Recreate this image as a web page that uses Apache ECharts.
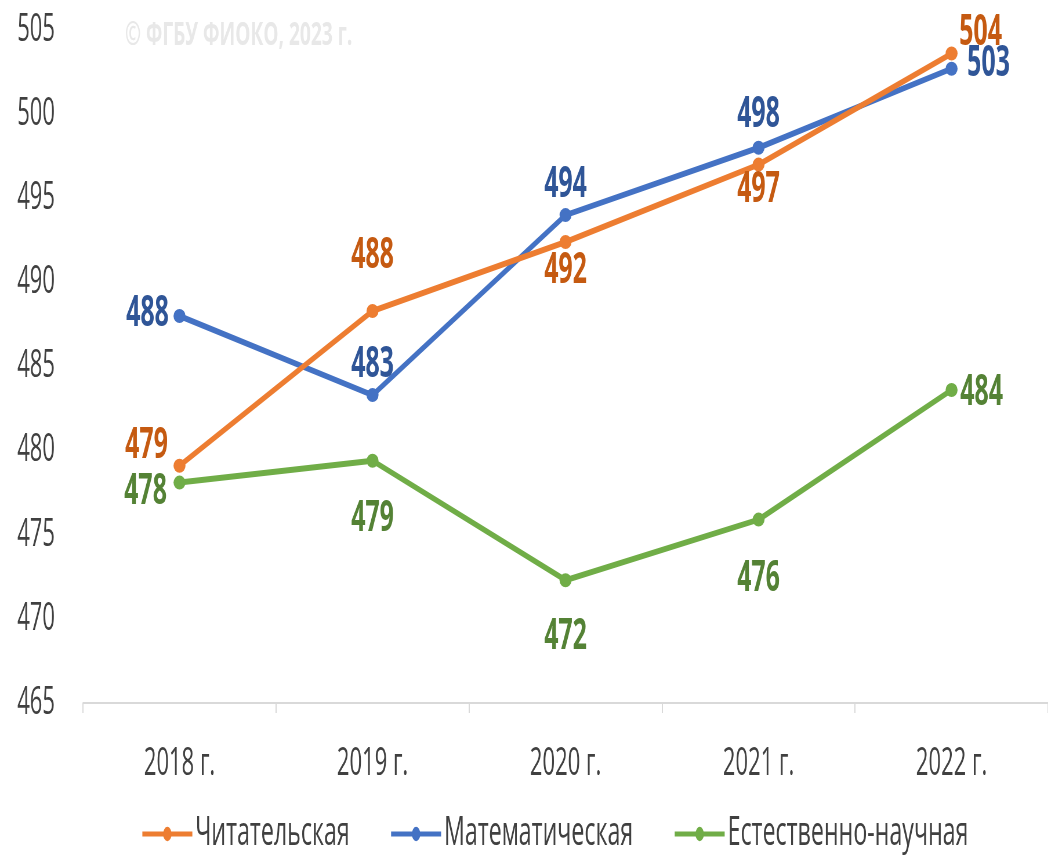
<!DOCTYPE html>
<html><head><meta charset="utf-8">
<script src="https://cdn.jsdelivr.net/npm/echarts@6/dist/echarts.min.js"></script>
<style>html,body{margin:0;padding:0;background:#fff;overflow:hidden}
#wrap{width:1048px;height:859px;overflow:hidden}
#c{height:859px;transform-origin:0 0}</style>
</head><body><div id="wrap"><div id="c"></div></div>
<script>
const categories = ['2018 г.', '2019 г.', '2020 г.', '2021 г.', '2022 г.'];
const reading = [479.1, 488.3, 492.4, 497.0, 503.6];
const math = [488.0, 483.3, 494.0, 498.0, 502.7];
const science = [478.1, 479.4, 472.3, 475.9, 483.6];
const seriesNames = ['Читательская', 'Математическая', 'Естественно-научная'];
const yTicks = [465, 470, 475, 480, 485, 490, 495, 500, 505];

// horizontal squeeze of the whole drawing (condensed look of the original)
const S = 0.58;
const X = v => v / S;
const el = document.getElementById('c');
el.style.width = X(1048) + 'px';
el.style.transform = 'scaleX(' + S + ')';

const FONT = '"Open Sans", "Noto Sans", sans-serif';
const lineColors = ['#ED7D31', '#4472C4', '#70AD47'];
const textColors = ['#C55A11', '#2F5597', '#548235'];
// label offsets [dx, dy] (final pixels) relative to point, per series per category
const labelOffsets = [
  [[-33, -20], [0, -55], [0, 29], [0, 25], [29, -21]],
  [[-32, -2], [0, -30], [0, -30], [0, -33], [37, -5]],
  [[-34, 9], [0, 58], [0, 57], [0, 59], [30, 3]]
];

function build(vals, i) {
  return {
    name: seriesNames[i], type: 'line', data: vals.map((v, j) => ({
      value: v,
      label: { offset: [X(labelOffsets[i][j][0]), labelOffsets[i][j][1]] }
    })),
    symbol: 'circle', symbolSize: [X(12), 14],
    lineStyle: { width: 6, color: lineColors[i] },
    itemStyle: { color: lineColors[i] },
    label: {
      show: true, position: 'inside', color: textColors[i],
      fontFamily: FONT, fontWeight: 'bold', fontSize: 43,
      formatter: p => Math.round(p.value)
    },
    z: 3 - i
  };
}

const chart = echarts.init(el);
chart.setOption({
  animation: false,
  grid: { left: X(83), top: 30, width: X(970), bottom: 156, containLabel: false },
  graphic: [{ type: 'text', left: X(125), top: 19, style: { text: '© ФГБУ ФИОКО, 2023 г.', fill: '#e8e8e8', font: 'bold 33px ' + FONT } }],
  xAxis: {
    type: 'category', data: categories, boundaryGap: true,
    axisLine: { lineStyle: { color: '#d9d9d9', width: 2 } },
    axisTick: { show: true, length: 10, lineStyle: { color: '#d9d9d9', width: 2 } },
    axisLabel: { color: '#404040', fontFamily: FONT, fontSize: 38, margin: 42 }
  },
  yAxis: {
    type: 'value', min: 465, max: 505, interval: 5,
    axisLine: { show: false }, axisTick: { show: false }, splitLine: { show: false },
    axisLabel: { color: '#404040', fontFamily: FONT, fontSize: 38, margin: X(28),
      formatter: v => yTicks.includes(v) ? String(v) : '' }
  },
  legend: {
    bottom: 0, left: X(138), itemGap: X(40), itemWidth: X(50), itemHeight: 18,
    itemStyle: { borderWidth: 0 },
    lineStyle: { width: 5 },
    textStyle: { color: '#404040', fontFamily: FONT, fontSize: 40 },
    data: seriesNames
  },
  series: [build(reading, 0), build(math, 1), build(science, 2)]
});
</script></body></html>
